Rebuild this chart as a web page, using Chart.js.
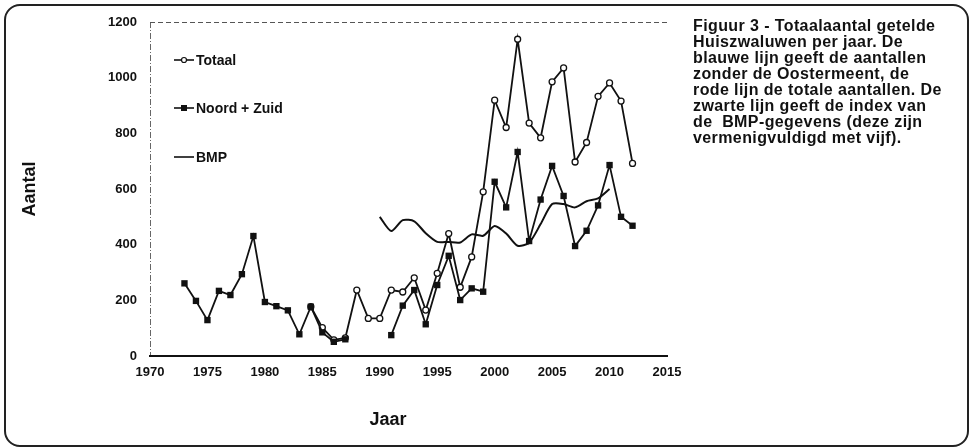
<!DOCTYPE html>
<html>
<head>
<meta charset="utf-8">
<script src="https://cdn.jsdelivr.net/npm/chart.js@4/dist/chart.umd.min.js"></script>
<style>
    body { margin: 0; background: #fff; }
    #wrap { position: relative; width: 970px; height: 448px; overflow: hidden; }
    #frame {
        position: absolute; left: 4px; top: 4px; width: 965px; height: 443px;
        box-sizing: border-box; border: 2px solid #222; border-radius: 16px;
    }
    #chart { position: absolute; left: 0; top: 0; }
    #caption {
        position: absolute; left: 693px; top: 18px;
        font-family: "Liberation Sans", Arial, sans-serif; font-weight: bold;
        font-size: 16px; line-height: 16px; letter-spacing: 0.4px;
        color: #111; white-space: pre;
    }
</style>
</head>
<body>
<div id="wrap">
    <div id="frame"></div>
    <canvas id="chart" width="970" height="448"></canvas>
    <div id="caption">Figuur 3 - Totaalaantal getelde
Huiszwaluwen per jaar. De
blauwe lijn geeft de aantallen
zonder de Oostermeent, de
rode lijn de totale aantallen. De
zwarte lijn geeft de index van
de  BMP-gegevens (deze zijn
vermenigvuldigd met vijf).</div>
</div>
<script>
const FONT = '"Liberation Sans", Arial, sans-serif';

// Totaal (open markers)
const totaalYears = [1984, 1985, 1986, 1987, 1988, 1989, 1990, 1991, 1992, 1993, 1994, 1995, 1996, 1997, 1998,
    1999, 2000, 2001, 2002, 2003, 2004, 2005, 2006, 2007, 2008, 2009, 2010, 2011, 2012];
const totaalValues = [177, 102, 58, 65, 237, 135, 135, 237, 230, 281, 165, 297, 440, 247, 356,
    590, 919, 821, 1138, 837, 784, 985, 1035, 697, 767, 933, 981, 916, 692];

// Noord + Zuid (filled squares), gap 1988-1990
const nzYears = [1973, 1974, 1975, 1976, 1977, 1978, 1979, 1980, 1981, 1982, 1983, 1984, 1985, 1986, 1987,
    1988, 1989, 1990, 1991, 1992, 1993, 1994, 1995, 1996, 1997, 1998, 1999, 2000, 2001, 2002, 2003,
    2004, 2005, 2006, 2007, 2008, 2009, 2010, 2011, 2012];
const nzValues = [261, 198, 129, 234, 219, 294, 431, 194, 179, 164, 78, 177, 85, 51, 60,
    null, null, null, 75, 181, 237, 114, 255, 360, 201, 243, 231, 626, 534, 733, 413,
    562, 683, 575, 395, 450, 541, 686, 500, 468];

// BMP index x5
const bmpYears = [1990, 1991, 1992, 1993, 1994, 1995, 1996, 1997, 1998, 1999, 2000, 2001, 2002, 2003,
    2004, 2005, 2006, 2007, 2008, 2009, 2010];
const bmpValues = [500, 449, 488, 484, 441, 410, 410, 408, 437, 432, 467, 440, 396, 407,
    474, 546, 546, 534, 556, 566, 600];

const xTicks = [1970, 1975, 1980, 1985, 1990, 1995, 2000, 2005, 2010, 2015];

function toPoints(years, values) {
    return years.map((y, i) => ({ x: y, y: values[i] }));
}

const legendItems = [
    { label: "Totaal", style: "circle", y: 60 },
    { label: "Noord + Zuid", style: "rect", y: 108 },
    { label: "BMP", style: null, y: 157 }
];

const overlay = {
    id: "overlay",
    afterDraw(chart) {
        const ctx = chart.ctx;
        ctx.save();
        legendItems.forEach(item => {
            ctx.strokeStyle = "#111";
            ctx.lineWidth = 1.6;
            ctx.beginPath();
            ctx.moveTo(174, item.y);
            ctx.lineTo(194, item.y);
            ctx.stroke();
            if (item.style === "circle") {
                ctx.fillStyle = "#fff";
                ctx.beginPath();
                ctx.arc(184, item.y, 2.5, 0, Math.PI * 2);
                ctx.fill();
                ctx.lineWidth = 1.2;
                ctx.stroke();
            } else if (item.style === "rect") {
                ctx.fillStyle = "#111";
                ctx.fillRect(181, item.y - 3, 6, 6);
            }
            ctx.fillStyle = "#111";
            ctx.font = "bold 14px " + FONT;
            ctx.textAlign = "left";
            ctx.textBaseline = "middle";
            ctx.fillText(item.label, 196, item.y + 1);
        });
        ctx.font = "bold 18px " + FONT;
        ctx.textAlign = "center";
        ctx.textBaseline = "middle";
        ctx.fillText("Jaar", 388, 420);
        ctx.restore();
    }
};

new Chart(document.getElementById("chart"), {
    type: "line",
    data: {
        datasets: [
            {
                label: "Noord + Zuid",
                data: toPoints(nzYears, nzValues),
                borderColor: "#111",
                borderWidth: 1.8,
                pointStyle: "rect",
                pointRadius: 4.5,
                pointBackgroundColor: "#111",
                pointBorderColor: "#111",
                pointBorderWidth: 0,
                spanGaps: false,
                tension: 0
            },
            {
                label: "Totaal",
                data: toPoints(totaalYears, totaalValues),
                borderColor: "#111",
                borderWidth: 1.8,
                pointStyle: "circle",
                pointRadius: 3,
                pointBackgroundColor: "#fff",
                pointBorderColor: "#111",
                pointBorderWidth: 1.3,
                tension: 0
            },
            {
                label: "BMP",
                data: toPoints(bmpYears, bmpValues),
                borderColor: "#111",
                borderWidth: 2,
                pointRadius: 0,
                tension: 0.25
            }
        ]
    },
    options: {
        responsive: false,
        animation: false,
        devicePixelRatio: 1,
        layout: { padding: { left: 0, top: 22, right: 303, bottom: 0 } },
        plugins: { legend: { display: false }, tooltip: { enabled: false } },
        scales: {
            x: {
                type: "linear",
                min: 1970,
                max: 2015,
                afterBuildTicks: scale => { scale.ticks = xTicks.map(v => ({ value: v })); },
                afterFit: scale => { scale.height = 92; },
                ticks: {
                    padding: 9,
                    maxRotation: 0,
                    autoSkip: false,
                    color: "#111",
                    font: { family: FONT, size: 13, weight: "bold" },
                    callback: v => String(v)
                },
                grid: {
                    drawTicks: false,
                    lineWidth: 1,
                    color: c => (c.tick && c.tick.value === 1970) ? "#666" : "rgba(0,0,0,0)"
                },
                border: { display: true, color: "#111", width: 2, dash: [6, 2, 1, 2] }
            },
            y: {
                min: 0,
                max: 1200,
                afterFit: scale => { scale.width = 150; },
                ticks: {
                    stepSize: 200,
                    padding: 13,
                    color: "#111",
                    font: { family: FONT, size: 13, weight: "bold" },
                    callback: v => String(v)
                },
                grid: {
                    drawTicks: false,
                    lineWidth: 1,
                    color: c => (c.tick && c.tick.value === 1200) ? "#555" : "rgba(0,0,0,0)"
                },
                border: { display: false, dash: [5, 3] },
                title: {
                    display: true,
                    text: "Aantal",
                    color: "#111",
                    font: { family: FONT, size: 18, weight: "bold" },
                    padding: { top: 19, bottom: 0 }
                }
            }
        }
    },
    plugins: [overlay]
});
</script>
</body>
</html>
